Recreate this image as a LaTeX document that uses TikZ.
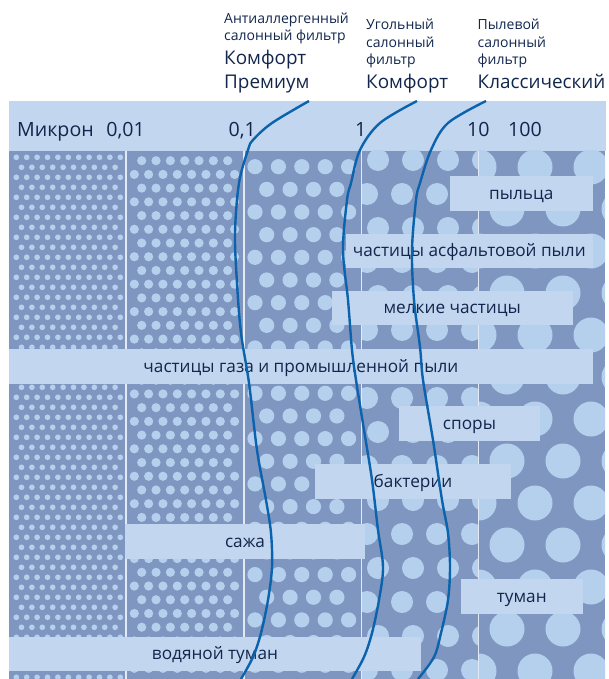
\documentclass[tikz,border=0pt]{standalone}
\usepackage{fontspec}
\setmainfont{Open Sans}
\definecolor{bandc}{HTML}{C2D6EF}
\definecolor{bodyc}{HTML}{7F96C0}
\definecolor{dotc}{HTML}{B4D0EC}
\definecolor{divc}{HTML}{E2EAF5}
\definecolor{curvec}{HTML}{0A63AC}
\definecolor{txtc}{HTML}{12264D}
\tikzset{
  dotf/.style={fill=dotc},
  divider/.style={draw=divc, line width=1.3pt},
  filtercurve/.style={draw=curvec, line width=2.4pt},
  lbl/.style={fill=bandc, inner sep=0pt, text=txtc, minimum height=34.5pt,
    font=\fontsize{17.2}{19}\selectfont, text height=11.5pt, text depth=0pt},
  hsmall/.style={anchor=base west, inner sep=0pt, text=txtc, font=\fontsize{14}{16}\selectfont},
  hbig/.style={anchor=base west, inner sep=0pt, text=txtc, font=\fontsize{18.9}{21}\selectfont},
  hnum/.style={anchor=base, inner sep=0pt, text=txtc, font=\fontsize{19.6}{22}\selectfont}
}
\begin{document}
\begin{tikzpicture}[x=1pt,y=-1pt]
\useasboundingbox (0,0) rectangle (609,679);
% header band
\fill[bandc] (9,101) rectangle (606,151);
% body
\fill[bodyc] (9,151) rectangle (605,679);
\begin{scope}
\clip (9,151) rectangle (605,679);
% column 1
\foreach \j in {0,...,52}{
  \pgfmathsetmacro\yy{157.3+10*\j}
  \pgfmathsetmacro\off{mod(\j,2)==0 ? 16.3 : 21.5}
  \pgfmathtruncatemacro\nn{mod(\j,2)==0 ? 10 : 9}
  \foreach \i in {0,...,\nn}{\fill[dotf] (\off+10.4*\i,\yy) circle (2.85);}
}
% column 2
\foreach \j in {0,...,37}{
  \pgfmathsetmacro\yy{160.7+13.72*\j}
  \pgfmathsetmacro\off{mod(\j,2)==0 ? 141.7 : 134.3}
  \pgfmathtruncatemacro\nn{mod(\j,2)==0 ? 6 : 7}
  \foreach \i in {0,...,\nn}{\fill[dotf] (\off+14.33*\i,\yy) circle (4.6);}
}
% column 3
\foreach \j in {0,...,22}{
  \pgfmathsetmacro\yy{166.7+22.66*\j}
  \pgfmathsetmacro\off{mod(\j,2)==0 ? 255 : 266.7}
  \pgfmathtruncatemacro\nn{mod(\j,2)==0 ? 4 : 3}
  \foreach \i in {0,...,\nn}{\fill[dotf] (\off+23.4*\i,\yy) circle (7.6);}
}
% column 4
\begin{scope}
\clip (361.5,151) rectangle (478.5,679);
\foreach \j in {0,...,15}{
  \pgfmathsetmacro\yy{160+34*\j}
  \pgfmathsetmacro\off{mod(\j,2)==0 ? 343 : 332}
  \foreach \i in {0,...,5}{\fill[dotf] (\off+35*\i,\yy) circle (11);}
}
\end{scope}
% column 5
\begin{scope}
\clip (478.5,151) rectangle (605,679);
\foreach \j in {0,...,13}{
  \pgfmathsetmacro\yy{125+42*\j}
  \pgfmathsetmacro\off{mod(\j,2)==0 ? 451 : 479}
  \foreach \i in {0,...,3}{\fill[dotf] (\off+56*\i,\yy) circle (17.5);}
}
\end{scope}
\end{scope}
% dividers
\draw[divider] (126,151) -- (126,679);
\draw[divider] (244,151) -- (244,679);
\draw[divider] (361.5,151) -- (361.5,679);
\draw[divider] (478.5,151) -- (478.5,679);
% labels
\node[lbl, minimum width=142.7pt] (pollen) at (521.3,193.6) {пыльца};
\node[lbl, minimum width=246.7pt] (asphalt) at (469.3,251.2) {частицы асфальтовой пыли};
\node[lbl, minimum width=241pt] (fine) at (452.2,308.2) {мелкие частицы};
\node[lbl, minimum width=583.7pt] (gas) at (300.85,366.25) {частицы газа и промышленной пыли};
\node[lbl, minimum width=141pt] (spores) at (469.5,423.4) {споры};
\node[lbl, minimum width=196pt] (bact) at (413,481.5) {бактерии};
\node[lbl, minimum width=239.3pt] (soot) at (245,541.5) {сажа};
\node[lbl, minimum width=121.5pt] (fog) at (521.75,596.4) {туман};
\node[lbl, minimum width=412.8pt] (mist) at (215,654.2) {водяной туман};
% header texts
\node[hsmall] (a1) at (224,24) {Антиаллергенный};
\node[hsmall] (a2) at (224,40.7) {салонный фильтр};
\node[hbig] (a3) at (224,65) {Комфорт};
\node[hbig] (a4) at (224,88.3) {Премиум};
\node[hsmall] (b1) at (366,30) {Угольный};
\node[hsmall] (b2) at (366,47.3) {салонный};
\node[hsmall] (b3) at (366,64.3) {фильтр};
\node[hbig] (b4) at (366,88.3) {Комфорт};
\node[hsmall] (c1) at (477.5,30) {Пылевой};
\node[hsmall] (c2) at (477.5,47.3) {салонный};
\node[hsmall] (c3) at (477.5,64.3) {фильтр};
\node[hbig] (c4) at (477.5,88.3) {Классический};
\node[hnum, anchor=base west] (mic) at (17,136.7) {Микрон};
\node[hnum] (n1) at (125.5,136.7) {0,01};
\node[hnum] (n2) at (242.2,136.7) {0,1};
\node[hnum] (n3) at (360.7,136.7) {1};
\node[hnum] (n4) at (478.3,136.7) {10};
\node[hnum] (n5) at (525,136.7) {100};
% curves
\begin{scope}
\clip (0,101) rectangle (609,679);
\draw[filtercurve] plot[smooth, tension=0.55] coordinates {(309,101) (272,123) (253,140) (248,150) (239,183) (235,233) (237,283) (241,333) (249,383) (257,450) (266,500) (271,533) (272,567) (268,600) (261,633) (253,657) (241,679)};
\draw[filtercurve] plot[smooth, tension=0.55] coordinates {(417,101) (380,123) (360,150) (351,183) (347,200) (343,250) (348,300) (352,350) (356,380) (364,430) (372,480) (378,530) (383,567) (379,600) (372,633) (364,657) (352,679)};
\draw[filtercurve] plot[smooth, tension=0.55] coordinates {(486,101) (448,123) (431,150) (420,183) (416,200) (412,250) (414,300) (420,347) (423,380) (433,440) (442,500) (448,533) (450,567) (448,600) (441,633) (434,657) (418,679)};
\end{scope}
\end{tikzpicture}
\end{document}
